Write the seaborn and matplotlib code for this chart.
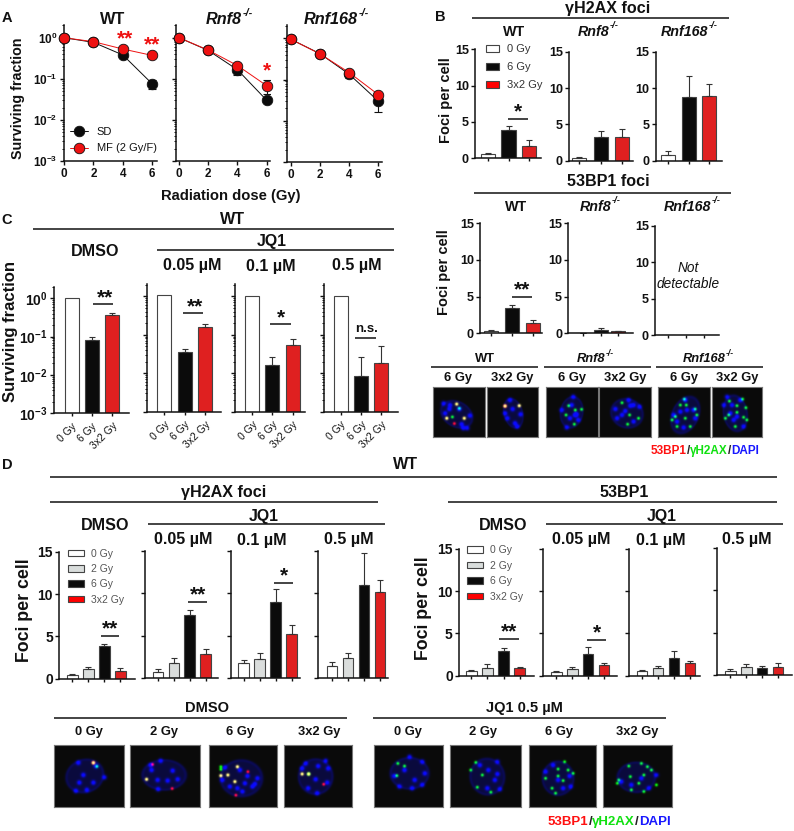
import numpy as np
import pandas as pd
import matplotlib
matplotlib.use('Agg')
import matplotlib.pyplot as plt
import seaborn as sns
from matplotlib.lines import Line2D
from matplotlib.patches import Patch
from matplotlib.ticker import LogLocator, FixedLocator, NullFormatter

# ---------- data ----------
A_DOSE = [0, 2, 4, 6]
A_WT_SD = [1.0, 0.77, 0.38, 0.075]
A_WT_SD_LOW = [1.0, 0.72, 0.33, 0.055]
A_WT_SD_HIGH = [1.0, 0.82, 0.43, 0.092]
A_WT_MF = [1.0, 0.80, 0.53, 0.37]
A_R8_SD = [1.0, 0.49, 0.166, 0.030]
A_R8_SD_LOW = [1.0, 0.46, 0.125, 0.027]
A_R8_SD_HIGH = [1.0, 0.52, 0.20, 0.034]
A_R8_MF = [1.0, 0.50, 0.21, 0.068]
A_R8_MF_LOW = [1.0, 0.48, 0.18, 0.043]
A_R8_MF_HIGH = [1.0, 0.52, 0.24, 0.095]
A_R168_SD = [0.95, 0.425, 0.135, 0.030]
A_R168_SD_LOW = [0.95, 0.40, 0.11, 0.016]
A_R168_SD_HIGH = [0.95, 0.45, 0.16, 0.042]
A_R168_MF = [0.95, 0.42, 0.148, 0.043]

DOSE3 = ['0 Gy', '6 Gy', '3x2 Gy']
DOSE4 = ['0 Gy', '2 Gy', '6 Gy', '3x2 Gy']

BG_WT, BG_WT_TOP = [0.55, 3.9, 1.75], [0.75, 4.4, 2.5]
BG_R8, BG_R8_TOP = [0.35, 3.3, 3.3], [0.5, 4.1, 4.4]
BG_R168, BG_R168_TOP = [0.85, 8.8, 8.9], [1.4, 11.7, 10.5]
BB_WT, BB_WT_TOP = [0.3, 3.4, 1.4], [0.4, 3.9, 1.75]
BB_R8, BB_R8_TOP = [0.05, 0.45, 0.25], [0.08, 0.7, 0.35]
BB_R168, BB_R168_TOP = [0.0, 0.0, 0.0], [0.0, 0.0, 0.0]

C_DMSO, C_DMSO_TOP = [1.0, 0.08, 0.37], [1.0, 0.095, 0.41]
C_005, C_005_TOP = [1.05, 0.035, 0.16], [1.05, 0.042, 0.19]
C_01, C_01_TOP = [1.0, 0.016, 0.055], [1.0, 0.026, 0.078]
C_05, C_05_TOP = [1.0, 0.0085, 0.018], [1.0, 0.026, 0.052]

DG_DMSO, DG_DMSO_TOP = [0.4, 1.15, 3.85, 0.95], [0.5, 1.35, 4.1, 1.3]
DG_005, DG_005_TOP = [0.7, 1.75, 7.4, 2.85], [1.05, 2.4, 8.05, 3.4]
DG_01, DG_01_TOP = [1.75, 2.2, 8.9, 5.2], [2.1, 2.9, 10.5, 6.3]
DG_05, DG_05_TOP = [1.4, 2.35, 10.9, 10.1], [1.85, 2.95, 14.75, 11.6]
DB_DMSO, DB_DMSO_TOP = [0.5, 0.95, 2.95, 0.9], [0.7, 1.35, 3.3, 1.05]
DB_005, DB_005_TOP = [0.4, 0.85, 2.6, 1.3], [0.5, 1.05, 3.35, 1.55]
DB_01, DB_01_TOP = [0.5, 0.95, 2.05, 1.55], [0.65, 1.2, 2.9, 1.7]
DB_05, DB_05_TOP = [0.5, 1.0, 0.8, 0.95], [0.7, 1.3, 1.05, 1.4]

# ---------- micrograph spots (cx, cy, rx, ry, angle) and foci ----------
ZB1 = (430, 3, 385, 3)
ZB2 = (597, 3, 385, 3)
ZD = (0, 1.98, 690, 3)
CELLS = [
    # box px, transform, nucleus, blue, green, red, yellow
    ((433, 485, 387, 437), ZB1, (80, 88, 54, 40, 30),
     [(40, 55), (58, 72), (120, 92), (100, 130), (112, 130), (45, 85), (88, 72), (60, 60), (95, 118)],
     [(67, 96), (88, 70)], [(73, 116)], [(80, 57), (103, 100), (50, 100)]),
    ((487, 538, 387, 437), ZB1, (250, 85, 30, 48, -15),
     [(240, 45), (232, 100), (255, 115), (272, 88), (225, 85), (262, 125), (248, 72)],
     [], [(225, 63)], [(268, 62), (225, 63)]),
    ((546, 598, 387, 437), ZB1, (425, 82, 36, 50, 10),
     [(430, 35), (435, 90), (445, 105), (410, 128), (395, 75), (425, 60), (420, 100), (440, 88)],
     [(416, 62), (408, 90), (436, 75), (433, 118), (455, 73)], [], []),
    ((599, 651, 387, 437), ZB2, (90, 85, 52, 46, 20),
     [(55, 72), (110, 60), (95, 45), (85, 78), (128, 65), (60, 100), (110, 110), (100, 62), (75, 90)],
     [(75, 53), (98, 90), (92, 118), (125, 100)], [], []),
    ((658, 710, 387, 437), ZB2, (265, 90, 42, 62, 25),
     [(290, 75), (250, 80), (260, 128), (230, 90), (270, 75), (240, 110), (295, 100), (265, 45)],
     [(262, 42), (268, 60), (240, 125), (295, 72), (235, 95), (265, 100), (300, 90), (280, 125), (225, 105), (250, 60)], [], []),
    ((712, 762, 387, 437), ZB2, (415, 85, 38, 58, -10),
     [(390, 35), (405, 60), (420, 95), (440, 125), (430, 45), (380, 60), (410, 105), (400, 85)],
     [(397, 48), (437, 42), (447, 68), (440, 97), (450, 105), (395, 90), (420, 82), (385, 100), (420, 62), (415, 125)], [], []),
    ((54, 124, 745, 807), ZD, (168, 258, 40, 52, -20),
     [(155, 218), (165, 255), (190, 228), (185, 278), (207, 262), (157, 278), (150, 303), (172, 300)],
     [(192, 229)], [(185, 218)], [(185, 218)]),
    ((130, 200, 745, 807), ZD, (325, 255, 46, 48, 0),
     [(300, 240), (318, 212), (342, 242), (312, 270), (332, 272), (352, 268), (313, 298), (298, 225)],
     [], [(302, 223), (341, 296)], [(290, 268)]),
    ((209, 277, 745, 807), ZD, (478, 265, 44, 58, 0),
     [(455, 290), (485, 280), (510, 265), (505, 282), (490, 258), (470, 295), (500, 290), (440, 270), (475, 240), (445, 232), (480, 305)],
     [(437, 230), (437, 238)], [(491, 245), (467, 316)], [(437, 257), (451, 255), (465, 275), (470, 230)]),
    ((284, 352, 745, 807), ZD, (625, 260, 36, 56, 0),
     [(630, 228), (645, 212), (605, 220), (625, 268), (610, 295), (648, 278), (628, 310), (650, 235), (598, 235)],
     [(611, 252)], [(641, 283)], [(598, 252), (611, 252)]),
    ((374, 443, 745, 807), ZD, (810, 250, 40, 50, 0),
     [(780, 258), (800, 240), (835, 215), (820, 270), (790, 290), (840, 250), (835, 285), (810, 200), (815, 295)],
     [(787, 220), (800, 228), (785, 257)], [], []),
    ((450, 521, 745, 807), ZD, (965, 260, 36, 58, -15),
     [(967, 240), (985, 252), (965, 295), (990, 298), (985, 215), (950, 225), (980, 270)],
     [(942, 217), (932, 240), (945, 292), (972, 307), (955, 255)], [], []),
    ((529, 596, 745, 807), ZD, (1105, 265, 33, 54, 0),
     [(1128, 258), (1115, 295), (1080, 245), (1105, 270), (1130, 290), (1095, 225)],
     [(1118, 215), (1105, 237), (1080, 265), (1093, 295), (1105, 258), (1115, 272), (1135, 250), (1100, 310), (1125, 240)], [], []),
    ((603, 672, 745, 807), ZD, (1260, 262, 40, 48, 0),
     [(1230, 275), (1300, 255), (1270, 265), (1250, 285), (1285, 295)],
     [(1245, 228), (1270, 220), (1282, 230), (1225, 270), (1248, 260), (1275, 255), (1300, 285), (1250, 300), (1275, 305), (1265, 280), (1290, 240), (1222, 280)], [], []),
]

# ---------- setup ----------
W, H = 794, 831
sns.set_theme(style='ticks')
plt.rcParams['font.family'] = ['Liberation Sans', 'DejaVu Sans']
plt.rcParams.update({
    'mathtext.default': 'regular', 'axes.linewidth': 1.1,
    'xtick.major.width': 1.0, 'ytick.major.width': 1.0,
    'text.color': '#111111', 'axes.edgecolor': '#111111',
    'xtick.color': '#111111', 'ytick.color': '#111111',
})
fig = plt.figure(figsize=(W / 100, H / 100), dpi=100, facecolor='white')
INK = '#111111'
COL3 = ['#ffffff', '#0b0b0b', '#ff0000']
COL4 = ['#ffffff', '#d9dddc', '#0b0b0b', '#ff0000']


def make_ax(left, right, top, bottom):
    ax = fig.add_axes([left / W, 1 - bottom / H, (right - left) / W, (bottom - top) / H])
    ax.set_facecolor('none')
    return ax


def T(x, y, s, size=10.5, weight='bold', **kw):
    kw.setdefault('ha', 'center')
    kw.setdefault('va', 'center')
    return fig.text(x / W, 1 - y / H, s, fontsize=size, fontweight=weight, **kw)


def gene(x, y, name, size):
    r = fig.canvas.get_renderer()
    em = size * 100 / 72
    a = T(0, y, name, size, style='italic', ha='left')
    b = T(0, y - 0.4 * em, '-/-', size * 0.66, style='italic', ha='left')
    wa, wb = a.get_window_extent(r).width, b.get_window_extent(r).width
    a.set_x((x - (wa + wb) / 2) / W)
    b.set_x((x - (wa + wb) / 2 + wa + 0.5) / W)


def HL(x0, x1, y, lw=1.1, color=INK):
    fig.add_artist(Line2D([x0 / W, x1 / W], [1 - y / H, 1 - y / H], transform=fig.transFigure,
                          color=color, lw=lw, solid_capstyle='butt'))


def sig(x0, x1, y, sx, sy, s='**', size=15):
    HL(x0, x1, y, lw=1.1)
    T(sx, sy, s, size=size)


def bars(box, c0, cn, vals, tops, cats, cols, ymode='lin', y0=None, labels=True,
         width=14, tsize=9, rot=False):
    left, right, top, bottom = box
    ax = make_ax(left, right, top, bottom)
    n = len(cats)
    s = (cn - c0) / (n - 1)
    if ymode == 'log':
        ax.set_yscale('log')
    df = pd.DataFrame({'dose': cats, 'value': vals})
    sns.barplot(data=df, x='dose', y='value', hue='dose', order=cats, hue_order=cats,
                palette=dict(zip(cats, cols)), width=width / s, dodge=False, legend=False,
                edgecolor='#444444', linewidth=0.8, errorbar=None, ax=ax)
    xs = np.arange(n)
    v, t = np.array(vals), np.array(tops)
    keep = t > v
    if keep.any():
        ax.errorbar(xs[keep], v[keep], yerr=[np.zeros(keep.sum()), (t - v)[keep]], fmt='none',
                    ecolor='#333333', elinewidth=0.8, capsize=2.4, capthick=0.8, zorder=1)
    ax.set_xlim((left - c0) / s, (right - c0) / s)
    if ymode == 'log':
        dec = (bottom - y0) / 3
        ax.set_ylim(1e-3, 10 ** ((y0 - top) / dec))
        ax.yaxis.set_major_locator(FixedLocator([1, 0.1, 0.01, 0.001]))
        ax.yaxis.set_minor_locator(LogLocator(base=10, subs=range(2, 10), numticks=12))
        ax.yaxis.set_minor_formatter(NullFormatter())
        ax.set_yticklabels(['10$^{0}$', '10$^{-1}$', '10$^{-2}$', '10$^{-3}$'] if labels else [])
        ax.tick_params(axis='y', which='minor', length=1.6, width=0.7)
    else:
        ax.set_ylim(0, 15)
        ax.set_yticks([0, 5, 10, 15])
        ax.set_yticklabels(['0', '5', '10', '15'] if labels else [])
    ax.tick_params(axis='y', which='major', length=3, pad=1.5, labelsize=tsize)
    ax.tick_params(axis='x', length=2.5, pad=2)
    for lab in ax.get_yticklabels():
        lab.set_fontweight('bold')
    ax.set_xlabel('')
    ax.set_ylabel('')
    ax.set_xticks(xs)
    if rot:
        ax.set_xticklabels(cats, rotation=45, ha='right', rotation_mode='anchor', fontsize=7.5)
        ax.tick_params(axis='x', pad=3)
    else:
        ax.set_xticklabels([])
    sns.despine(ax=ax)
    return ax


def survival(box, c0, cn, y0, sd, sd_lo, sd_hi, mf, mf_lo=None, mf_hi=None, labels=False):
    left, right, top, bottom = box
    ax = make_ax(left, right, top, bottom)
    ax.set_yscale('log')
    s = (cn - c0) / 6
    df = pd.DataFrame({'dose': A_DOSE * 2, 'sf': sd + mf,
                       'group': ['SD'] * 4 + ['MF (2 Gy/F)'] * 4})
    ax.errorbar(A_DOSE, sd, yerr=[np.array(sd) - np.array(sd_lo), np.array(sd_hi) - np.array(sd)],
                fmt='none', ecolor='#111111', elinewidth=0.8, capsize=3, capthick=0.8, zorder=1)
    if mf_lo is not None:
        ax.errorbar(A_DOSE, mf, yerr=[np.array(mf) - np.array(mf_lo), np.array(mf_hi) - np.array(mf)],
                    fmt='none', ecolor='#111111', elinewidth=0.8, capsize=3, capthick=0.8, zorder=1)
    sns.lineplot(data=df, x='dose', y='sf', hue='group', hue_order=['SD', 'MF (2 Gy/F)'],
                 palette={'SD': '#0b0b0b', 'MF (2 Gy/F)': '#ee1111'}, marker='o', markersize=7.6,
                 markeredgecolor='#111111', markeredgewidth=0.6, linewidth=0.7, errorbar=None,
                 legend=False, clip_on=False, zorder=5, ax=ax)
    ax.set_xlim((left - c0) / s, (right - c0) / s)
    dec = (bottom - y0) / 3
    ax.set_ylim(1e-3, 10 ** ((y0 - top) / dec))
    ax.yaxis.set_major_locator(FixedLocator([1, 0.1, 0.01, 0.001]))
    ax.yaxis.set_minor_locator(LogLocator(base=10, subs=range(2, 10), numticks=12))
    ax.yaxis.set_minor_formatter(NullFormatter())
    ax.set_yticklabels(['10$^{0}$', '10$^{-1}$', '10$^{-2}$', '10$^{-3}$'] if labels else [])
    ax.set_xticks(A_DOSE)
    ax.tick_params(axis='y', which='major', length=3, pad=1.5, labelsize=8.5)
    ax.tick_params(axis='y', which='minor', length=1.6, width=0.7)
    ax.tick_params(axis='x', length=3, pad=2, labelsize=8.5)
    for lab in ax.get_yticklabels() + ax.get_xticklabels():
        lab.set_fontweight('bold')
    ax.set_xlabel('')
    ax.set_ylabel('')
    sns.despine(ax=ax)
    return ax


def micrograph(box, tr, nuc, blue, green, red, yellow):
    x0, x1, y0, y1 = box
    ox, sx, oy, sy = tr
    ax = make_ax(x0, x1, y0, y1)
    xx, yy = np.meshgrid(np.linspace(x0, x1, int((x1 - x0) * 2)), np.linspace(y0, y1, int((y1 - y0) * 2)))

    def px(p):
        return ox + p[0] / sx, oy + p[1] / sy

    def gauss(pts, sig_):
        out = np.zeros_like(xx)
        for p in pts:
            a, b = px(p)
            out += np.exp(-((xx - a) ** 2 + (yy - b) ** 2) / (2 * sig_ ** 2))
        return out

    cx, cy = px(nuc[:2])
    rx, ry, ang = nuc[2] / sx, nuc[3] / sy, np.deg2rad(nuc[4])
    dx, dy = xx - cx, yy - cy
    u = (dx * np.cos(ang) + dy * np.sin(ang)) / rx
    v = (-dx * np.sin(ang) + dy * np.cos(ang)) / ry
    rr = np.sqrt(u ** 2 + v ** 2)
    body = 0.2 * np.clip((1.02 - rr) / 0.12, 0, 1) + 0.15 * np.exp(-((rr - 0.95) / 0.08) ** 2)
    gy, ry_ = gauss(yellow, 1.1), gauss(red, 1.0)
    gg = gauss(green, 1.05)
    R = 1.2 * ry_ + 1.3 * gy + 0.04
    G = 1.1 * gg + 1.2 * gy + 0.04
    B = body + 1.0 * gauss(blue, 1.6) + 0.35 * gy + 0.04
    ax.imshow(np.clip(np.dstack([R, G, B]), 0, 1), extent=(x0, x1, y1, y0), aspect='auto',
              interpolation='bilinear')
    ax.set_xticks([])
    ax.set_yticks([])
    for sp in ax.spines.values():
        sp.set_color('#777777')
        sp.set_linewidth(0.8)


def bar_legend(x, y, cats, cols, size, spacing, hl, tc='#333333'):
    handles = [Patch(facecolor=c, edgecolor='#444444', linewidth=0.8, label=k) for k, c in zip(cats, cols)]
    leg = fig.legend(handles=handles, loc='center left', bbox_to_anchor=(x / W, 1 - y / H), frameon=False,
                     fontsize=size, handlelength=hl, handleheight=0.6, handletextpad=0.7,
                     labelspacing=spacing, borderpad=0, borderaxespad=0)
    for t in leg.get_texts():
        t.set_color(tc)


def tri_label(x, y, size=8):
    fig.canvas.draw()
    r = fig.canvas.get_renderer()
    cur = x
    for s, c in [('53BP1', '#ff1010'), ('/', '#222222'), ('γH2AX', '#10e010'), ('/', '#222222'), ('DAPI', '#1818ff')]:
        tx = T(cur, y, s, size=size, color=c, ha='left')
        cur += tx.get_window_extent(r).width


# ---------- panel A ----------
survival((64, 157, 25, 161), 64, 152.3, 37.7, A_WT_SD, A_WT_SD_LOW, A_WT_SD_HIGH, A_WT_MF, labels=True)
survival((175.7, 270, 25, 161), 179, 266.7, 37.7, A_R8_SD, A_R8_SD_LOW, A_R8_SD_HIGH, A_R8_MF, A_R8_MF_LOW, A_R8_MF_HIGH)
survival((287, 381.6, 25, 162), 290.7, 378.3, 38.3, A_R168_SD, A_R168_SD_LOW, A_R168_SD_HIGH, A_R168_MF)
T(7, 18, 'A', size=10.5)
T(113, 19, 'WT', size=11.7)
gene(229, 19, 'Rnf8', 11.7)
gene(336, 19, 'Rnf168', 11.7)
T(18, 98, 'Surviving fraction', size=10.3, rotation=90)
T(231, 195.7, 'Radiation dose (Gy)', size=10.6)
T(125, 39, '**', size=15, color='#ee1111')
T(151.7, 45, '**', size=15, color='#ee1111')
T(266.7, 70.7, '*', size=15, color='#ee1111')
lg = [Line2D([], [], color='#0b0b0b', lw=0.7, marker='o', ms=7.6, mec='#111111', mew=0.6, label='SD'),
      Line2D([], [], color='#ee1111', lw=0.7, marker='o', ms=7.6, mfc='#ee1111', mec='#111111', mew=0.6, label='MF (2 Gy/F)')]
leg = fig.legend(handles=lg, loc='center left', bbox_to_anchor=(70 / W, 1 - 140 / H), frameon=False, fontsize=8,
                 handlelength=1.6, handletextpad=0.8, labelspacing=0.62, borderpad=0, borderaxespad=0)

# ---------- panel B ----------
T(440.7, 17, 'B', size=10.5)
T(608, 8.5, 'γH2AX foci', size=11.6)
HL(472, 729, 18.3)
T(514, 31.7, 'WT', size=10.3)
gene(597.7, 31.7, 'Rnf8', 10.3)
gene(689.3, 31.7, 'Rnf168', 10.3)
bars((475, 540.7, 49.3, 158.3), 487.7, 529.3, BG_WT, BG_WT_TOP, DOSE3, COL3)
bars((569, 633, 51.7, 160.7), 579.3, 622, BG_R8, BG_R8_TOP, DOSE3, COL3)
bars((655.7, 721.7, 51.7, 160.7), 667.7, 709.3, BG_R168, BG_R168_TOP, DOSE3, COL3)
T(445.7, 100, 'Foci per cell', size=10.5, rotation=90)
bar_legend(485.7, 67, DOSE3, COL3, 8, 0.72, 1.2)
sig(507.5, 527.5, 119, 518, 112, '*')
T(608, 181, '53BP1 foci', size=11.6)
HL(474, 730.7, 193.3)
T(516, 206.7, 'WT', size=10.3)
gene(600, 206.7, 'Rnf8', 10.3)
gene(691.7, 206.7, 'Rnf168', 10.3)
bars((480, 541.7, 223.3, 333.3), 491, 532.7, BB_WT, BB_WT_TOP, DOSE3, COL3)
bars((568.3, 633, 223.3, 333.3), 583, 618, BB_R8, BB_R8_TOP, DOSE3, COL3)
bars((655, 719, 225.7, 335), 668.3, 703.7, BB_R168, BB_R168_TOP, DOSE3, COL3)
T(444, 272.3, 'Foci per cell', size=10.5, rotation=90)
sig(512.3, 531.7, 297.3, 522, 290, '**')
T(688, 268, 'Not', size=9.8, weight='normal', style='italic')
T(688, 284, 'detectable', size=9.8, weight='normal', style='italic')
T(485, 359, 'WT', size=9.3)
gene(595, 359, 'Rnf8', 9.3)
gene(708, 359, 'Rnf168', 9.3)
HL(431, 538, 367.3)
HL(544.3, 651, 367.3)
HL(656, 763.3, 367.3)
for x_, s_ in zip([458, 512, 571.7, 625, 684, 736.7], ['6 Gy', '3x2 Gy'] * 3):
    T(x_, 377.7, s_, size=9.3)

# ---------- panel C ----------
T(7, 220, 'C', size=10.5)
T(232, 220, 'WT', size=11.6)
HL(33, 394, 229.3)
T(95, 251, 'DMSO', size=11.6)
T(272, 241.7, 'JQ1', size=11.4)
HL(156.7, 394, 250)
T(192, 265.7, '0.05 µM', size=11.6)
T(271, 266.7, '0.1 µM', size=11.6)
T(357, 265.7, '0.5 µM', size=11.6)
T(11, 331.7, 'Surviving fraction', size=12, rotation=90)
bars((54, 129.3, 286.7, 413.3), 71.7, 112, C_DMSO, C_DMSO_TOP, DOSE3, COL3, 'log', 298.3, tsize=10, rot=True)
bars((147, 221, 284.3, 411.7), 164.3, 205.3, C_005, C_005_TOP, DOSE3, COL3, 'log', 296.3, labels=False, rot=True)
bars((235.3, 305, 284.3, 411.7), 252, 292.7, C_01, C_01_TOP, DOSE3, COL3, 'log', 296.3, labels=False, rot=True)
bars((324, 398.3, 284.3, 411.7), 340.7, 381.3, C_05, C_05_TOP, DOSE3, COL3, 'log', 296.3, labels=False, rot=True)
sig(92.7, 113.3, 304.3, 105.3, 298, '**')
sig(183.3, 203.3, 313, 195.3, 307, '**')
sig(270, 291, 323.7, 281, 317.7, '*')
HL(355, 375.7, 338.3)
T(367, 328.7, 'n.s.', size=9.5)

# ---------- panel D ----------
T(7, 465, 'D', size=10.5)
T(405, 465, 'WT', size=11.6)
HL(50, 776.7, 477.3)
T(224, 492.3, 'γH2AX foci', size=11.6)
HL(50, 378.3, 501.7)
T(105, 526, 'DMSO', size=11.6)
T(263.3, 516, 'JQ1', size=11.4)
HL(148.3, 385, 524.3)
T(183.3, 539.3, '0.05 µM', size=11.6)
T(262.3, 540.7, '0.1 µM', size=11.6)
T(349, 539.3, '0.5 µM', size=11.6)
T(24.3, 610, 'Foci per cell', size=12.8, rotation=90)
bars((59.3, 135, 551.7, 678.7), 72.3, 120.3, DG_DMSO, DG_DMSO_TOP, DOSE4, COL4, width=10.7, tsize=10)
bars((144.7, 218, 550.7, 678), 158, 205.7, DG_005, DG_005_TOP, DOSE4, COL4, labels=False, width=10.7)
bars((230.7, 300, 550.7, 678), 243.7, 291.7, DG_01, DG_01_TOP, DOSE4, COL4, labels=False, width=10.7)
bars((318, 388.3, 550.7, 678), 332, 380, DG_05, DG_05_TOP, DOSE4, COL4, labels=False, width=10.7)
bar_legend(68, 576.7, DOSE4, COL4, 7.5, 0.52, 1.5, tc='#555555')
sig(100.7, 119.3, 636.3, 110, 629, '**')
sig(188.3, 207.3, 602, 197.7, 595, '**')
sig(274, 292.7, 583, 283.7, 576, '*')

T(624, 492.3, '53BP1', size=11.6)
HL(448.3, 776.7, 501.7)
T(503.3, 526, 'DMSO', size=11.6)
T(661.7, 516, 'JQ1', size=11.4)
HL(546, 783.3, 524.3)
T(581.7, 539.3, '0.05 µM', size=11.6)
T(660.7, 540.3, '0.1 µM', size=11.6)
T(746.7, 539.3, '0.5 µM', size=11.6)
T(423.3, 607.7, 'Foci per cell', size=12.8, rotation=90)
bars((459, 534, 549, 675.7), 471.3, 519.7, DB_DMSO, DB_DMSO_TOP, DOSE4, COL4, width=10.7, tsize=10)
bars((543.3, 616.7, 549, 675.7), 556.3, 604, DB_005, DB_005_TOP, DOSE4, COL4, labels=False, width=10.7)
bars((628.7, 700, 549, 675.7), 642, 690, DB_01, DB_01_TOP, DOSE4, COL4, labels=False, width=10.7)
bars((716.7, 791.7, 547.7, 675), 730.3, 778, DB_05, DB_05_TOP, DOSE4, COL4, labels=False, width=10.7)
bar_legend(467, 573.5, DOSE4, COL4, 7.5, 0.52, 1.5, tc='#555555')
sig(499.3, 518.7, 639.3, 509.3, 632.3, '**')
sig(586.7, 606, 640.3, 596.7, 633.3, '*')

# ---------- micrographs ----------
for c in CELLS:
    micrograph(*c)
T(207, 708, 'DMSO', size=10.5)
T(524, 708, 'JQ1 0.5 µM', size=10.5)
HL(54, 347, 717.7)
HL(373, 666, 717.7)
for x_, s_ in zip([89, 164, 240, 319, 408, 483, 559, 637], DOSE4 * 2):
    T(x_, 732, s_, size=9.3)
tri_label(650.7, 450.7, 8.5)
tri_label(548, 822, 9.5)

fig.savefig('out.png', dpi=100)
